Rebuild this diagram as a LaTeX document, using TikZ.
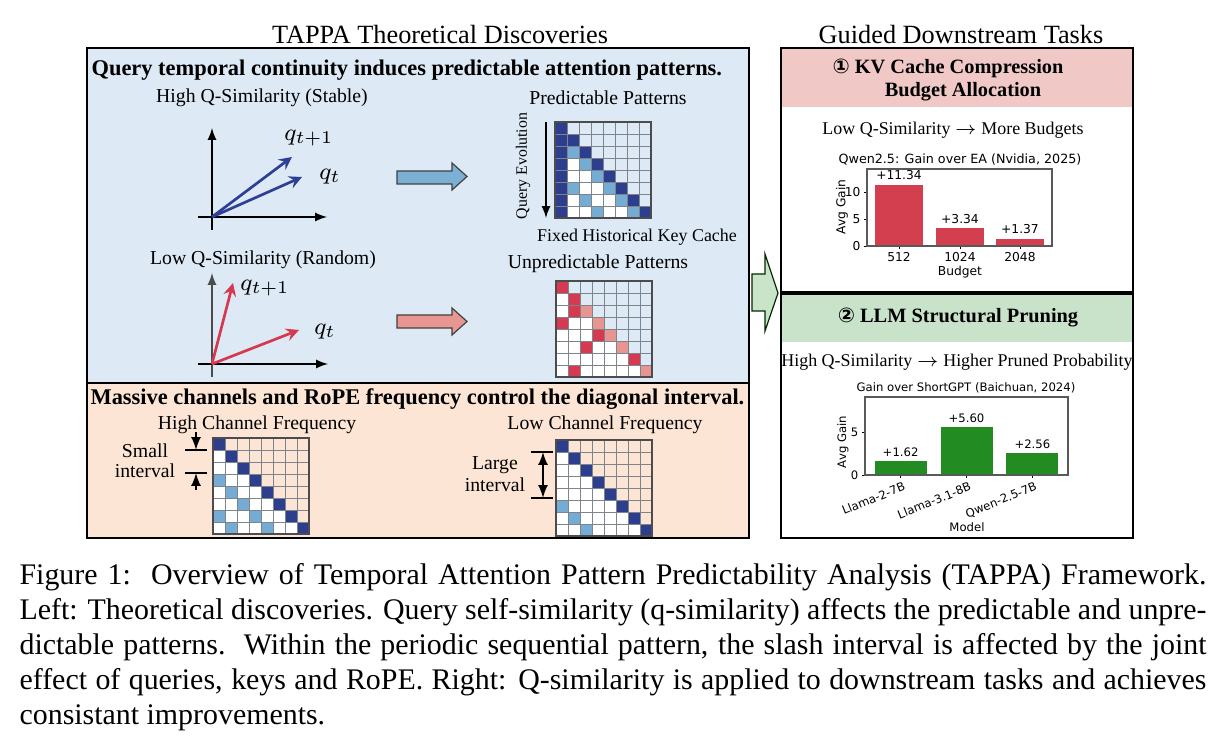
\documentclass[tikz,border=0pt]{standalone}
\usepackage{fontspec}
\setmainfont{Liberation Serif}
\newfontfamily\plotfont{DejaVu Sans}
\newfontfamily\circfont{DejaVu Sans}
\usepackage{tikz}
\usetikzlibrary{arrows,positioning,calc}

\definecolor{panelblue}{RGB}{221,233,244}
\definecolor{panelorange}{RGB}{252,229,212}
\definecolor{headpink}{RGB}{240,201,199}
\definecolor{headgreen}{RGB}{201,227,202}
\definecolor{attdark}{RGB}{46,62,142}
\definecolor{attmid}{RGB}{116,172,211}
\definecolor{attred}{RGB}{213,58,80}
\definecolor{attpink}{RGB}{232,148,144}
\definecolor{gridgray}{RGB}{125,132,140}
\definecolor{vecblue}{RGB}{46,64,150}
\definecolor{vecred}{RGB}{214,57,79}
\definecolor{fatblue}{RGB}{123,175,212}
\definecolor{fatred}{RGB}{232,150,146}
\definecolor{barred}{RGB}{212,63,79}
\definecolor{bargreen}{RGB}{34,139,34}
\definecolor{arrowgreen}{RGB}{201,228,201}

\tikzset{
  panel/.style={draw=black,line width=0.8pt},
  heading/.style={font=\fontsize{7.5}{8.5}\selectfont\bfseries,inner sep=0pt},
  taskhead/.style={font=\fontsize{6.8}{8}\selectfont\bfseries},
  sublabel/.style={font=\fontsize{6.6}{7.5}\selectfont},
  rulelabel/.style={font=\fontsize{6.0}{7}\selectfont},
  tasktitle/.style={font=\fontsize{8.8}{10}\selectfont},
  plottext/.style={font=\plotfont\fontsize{4.1}{5}\selectfont,inner sep=1pt},
  plotsmall/.style={font=\plotfont\fontsize{3.9}{4.8}\selectfont,inner sep=1pt},
  qlabel/.style={font=\fontsize{8}{9}\selectfont},
  vecline/.style={line width=0.9pt,-stealth},
  axisline/.style={line width=0.4pt,-latex},
  fatarrow/.style={draw=black!75,line width=0.4pt},
  marker/.style={line width=0.5pt},
}

% 8x8 attention map: #1 origin, #2 colour above the diagonal, #3 cells row/col/colour
\newcommand{\attmatrix}[3]{%
  \begin{scope}[shift={#1}]
    \fill[white] (0,0) rectangle (96,96);
    \foreach \rw in {0,...,7}
      \foreach \cl in {0,...,7}
        {\ifnum\cl>\rw \fill[#2] (12*\cl,12*\rw) rectangle ++(12,12); \fi}
    \foreach \rw/\cl/\col in {#3}
      \fill[\col] (12*\cl,12*\rw) rectangle ++(12,12);
    \foreach \k in {1,...,7}
      {\draw[gridgray,line width=0.3pt] (12*\k,0) -- (12*\k,96);
       \draw[gridgray,line width=0.3pt] (0,12*\k) -- (96,12*\k);}
    \draw[black!70,line width=0.5pt] (0,0) rectangle (96,96);
  \end{scope}}

\begin{document}
\begin{tikzpicture}[x=0.3345pt,y=-0.3345pt]
    \useasboundingbox (0,0) rectangle (1219,751);

    % panels
    \fill[panelblue] (87,48) rectangle (749,383);
    \fill[panelorange] (87,383) rectangle (749,538);
    \draw[panel] (87,48) rectangle (749,538);
    \draw[panel] (87,383) -- (749,383);

    \fill[headpink] (781,48) rectangle (1133,107);
    \fill[headgreen] (781,293) rectangle (1133,342);
    \draw[panel] (781,48) rectangle (1133,538);
    \draw[panel,line width=1.1pt] (781,293) -- (1133,293);

    \node[tasktitle] (lefttitle) at (440,35) {TAPPA Theoretical Discoveries};
    \node[tasktitle] (righttitle) at (961,35) {Guided Downstream Tasks};

    \node[heading,anchor=west] (conthead) at (91,70) {Query temporal continuity induces predictable attention patterns.};
    \node[heading,anchor=west] (freqhead) at (90,399) {Massive channels and RoPE frequency control the diagonal interval.};

    % high q-similarity
    \node[sublabel] (highsim) at (262,98) {High Q-Similarity (Stable)};
    \coordinate (o1) at (212,217);
    \draw[axisline] (212,230) -- (212,128);
    \draw[axisline] (198,217) -- (327,217);
    \draw[vecline,vecblue] (o1) -- (292,157);
    \draw[vecline,vecblue] (o1) -- (302,177);
    \node[qlabel] (q1next) at (309,138) {$q_{t+1}$};
    \node[qlabel] (q1) at (330,177) {$q_t$};

    % low q-similarity
    \node[sublabel] (lowsim) at (263,260) {Low Q-Similarity (Random)};
    \coordinate (o2) at (212,364);
    \draw[axisline,black!70] (212,377) -- (212,273);
    \draw[axisline] (198,364) -- (328,364);
    \draw[vecline,vecred] (o2) -- (233,283);
    \draw[vecline,vecred] (o2) -- (299,330);
    \node[qlabel] (q2next) at (265,288) {$q_{t+1}$};
    \node[qlabel] (q2) at (325,332) {$q_t$};

    % fat arrows
    \draw[fatarrow,fill=fatblue] (397,171) -- (452,171) -- (452,163) -- (467,176.5) -- (452,190) -- (452,184) -- (397,184) -- cycle;
    \draw[fatarrow,fill=fatred] (397,315) -- (452,315) -- (452,308) -- (467,321.5) -- (452,335) -- (452,328) -- (397,328) -- cycle;

    % predictable patterns
    \node[sublabel] (predtitle) at (608,98) {Predictable Patterns};
    \attmatrix{(555,122)}{panelblue}{0/0/attdark,1/1/attdark,2/2/attdark,3/3/attdark,4/4/attdark,5/5/attdark,6/6/attdark,7/7/attdark,
      1/0/attdark,2/0/attdark,3/0/attdark,4/0/attdark,5/0/attdark,6/0/attdark,7/0/attdark,
      2/1/attmid,3/2/attmid,4/3/attmid,5/1/attmid,5/4/attmid,6/2/attmid,6/5/attmid,7/3/attmid,7/6/attmid}
    \node[font=\fontsize{5.3}{6}\selectfont,rotate=90] (qevo) at (523,166) {Query Evolution};
    \draw[axisline] (546,122) -- (546,218);
    \node[font=\fontsize{6.0}{7}\selectfont] (keycache) at (637,237) {Fixed Historical Key Cache};

    % unpredictable patterns
    \node[sublabel] (unpredtitle) at (598,264) {Unpredictable Patterns};
    \attmatrix{(556,281)}{panelblue}{0/0/attred,1/1/attred,2/1/attred,2/2/attpink,3/0/attred,3/3/attpink,
      4/3/attred,4/4/attpink,5/2/attred,5/5/attpink,6/6/attred,7/1/attred,7/7/attpink}

    % high channel frequency
    \node[sublabel] (highfreq) at (257,425) {High Channel Frequency};
    \attmatrix{(213,438)}{panelorange}{0/0/attdark,1/1/attdark,2/2/attdark,3/3/attdark,4/4/attdark,5/5/attdark,6/6/attdark,7/7/attdark,
      3/0/attmid,4/1/attmid,5/2/attmid,6/0/attmid,6/3/attmid,7/1/attmid,7/4/attmid}
    \node[sublabel] (smalltxt) at (145,451) {Small};
    \node[sublabel] (smallint) at (145,471) {interval};
    \draw[marker] (185,450) -- (207,450);
    \draw[marker] (185,473) -- (207,473);
    \draw[marker,-latex] (196,432) -- (196,450);
    \draw[marker,-latex] (196,490) -- (196,473);

    % low channel frequency
    \node[sublabel] (lowfreq) at (605,425) {Low Channel Frequency};
    \attmatrix{(556,440)}{panelorange}{0/0/attdark,1/1/attdark,2/2/attdark,3/3/attdark,4/4/attdark,5/5/attdark,6/6/attdark,7/7/attdark,
      5/0/attmid,6/1/attmid,7/2/attmid}
    \node[sublabel] (largetxt) at (495,465) {Large};
    \node[sublabel] (largeint) at (495,485) {interval};
    \draw[marker] (531,452) -- (553,452);
    \draw[marker] (531,498) -- (553,498);
    \draw[marker,latex-latex] (543,452) -- (543,498);

    % link to the tasks
    \draw[draw=black!60!green!40!black,line width=0.4pt,fill=arrowgreen] (752,274) -- (765,274) -- (765,254) -- (778,293) -- (765,331) -- (765,311) -- (752,311) -- cycle;

    % task 1
    \node[taskhead] (kvhead) at (948,68) {{\circfont ①} KV Cache Compression};
    \node[taskhead] (kvhead2) at (963,92) {Budget Allocation};
    \node[rulelabel] (kvrule) at (953,130) {Low Q-Similarity $\rightarrow$ More Budgets};
    \node[plottext,font=\plotfont\fontsize{4.25}{5}\selectfont] (kvtitle) at (960,160) {Qwen2.5: Gain over EA (Nvidia, 2025)};
    \foreach \cx/\h/\lab [count=\i] in {899/11.34/512, 960/3.34/1024, 1020/1.37/2048} {
      \fill[barred] (\cx-24,246) rectangle (\cx+24,246-5.4*\h);
      \node[plottext,anchor=south] (kvval\i) at (\cx,245-5.4*\h) {+\h};
      \draw[line width=0.3pt] (\cx,246) -- ++(0,3);
      \node[plottext,anchor=north] (kvtick\i) at (\cx,249) {\lab};
    }
    \foreach \v in {0,5,10} {
      \draw[line width=0.3pt] (867,246-5.4*\v) -- ++(-3,0);
      \node[plottext,anchor=east] (kvy\v) at (864,246-5.4*\v) {\v};
    }
    \draw[black!65,line width=0.4pt] (867,169) rectangle (1052,246);
    \node[plottext] (kvxlabel) at (960,272) {Budget};
    \node[plottext,rotate=90] (kvylabel) at (842,207) {Avg Gain};

    % task 2
    \node[taskhead] (prunehead) at (958,317) {{\circfont ②} LLM Structural Pruning};
    \node[rulelabel] (prunerule) at (957,362) {High Q-Similarity $\rightarrow$ Higher Pruned Probability};
    \node[plotsmall] (prunetitle) at (966,388) {Gain over ShortGPT (Baichuan, 2024)};
    \foreach \cx/\h/\lab [count=\i] in {900.6/1.62/Llama-2-7B, 966.5/5.60/Llama-3.1-8B, 1032.4/2.56/Qwen-2.5-7B} {
      \fill[bargreen] (\cx-26,475) rectangle (\cx+26,475-8.6*\h);
      \node[plotsmall,anchor=south] (pruneval\i) at (\cx,474-8.6*\h) {+\h};
      \draw[line width=0.3pt] (\cx,475) -- ++(0,3);
      \node[plotsmall,anchor=north east,rotate=22] (prunetick\i) at (\cx+4,477) {\lab};
    }
    \foreach \v in {0,5} {
      \draw[line width=0.3pt] (865,475-8.6*\v) -- ++(-3,0);
      \node[plotsmall,anchor=east] (prunay\v) at (862,475-8.6*\v) {\v};
    }
    \draw[black!65,line width=0.4pt] (865,397) rectangle (1068,475);
    \node[plotsmall] (prunexlabel) at (967,527) {Model};
    \node[plotsmall,rotate=90] (pruneylabel) at (843,442) {Avg Gain};

    % caption
    \node[anchor=north west,text width=397pt,align=justify,inner sep=0pt,font=\fontsize{10}{11.7}\selectfont] (caption) at (19,563)
      {Figure 1:\ \ Overview of Temporal Attention Pattern Predictability Analysis (TAPPA) Framework.\linebreak
       Left: Theoretical discoveries. Query self-similarity (q-similarity) affects the predictable and unpre-\linebreak
       dictable patterns.\ \ Within the periodic sequential pattern, the slash interval is affected by the joint\linebreak
       effect of queries, keys and RoPE. Right: Q-similarity is applied to downstream tasks and achieves\linebreak
       consistant improvements.};
\end{tikzpicture}
\end{document}
